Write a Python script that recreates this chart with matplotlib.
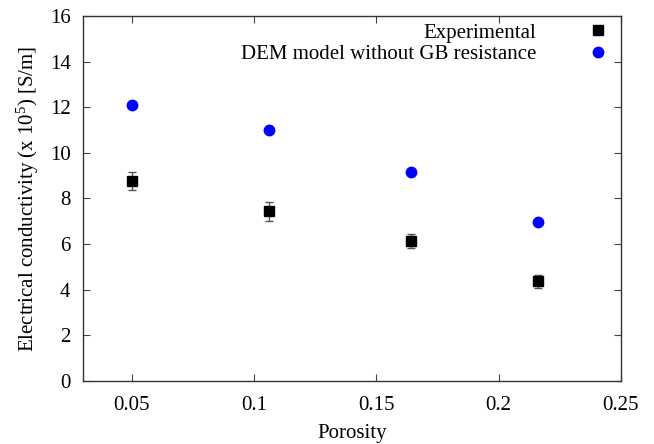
import matplotlib
matplotlib.use("Agg")
import matplotlib.pyplot as plt

plt.rcParams['font.family'] = ['Liberation Serif', 'DejaVu Serif']
plt.rcParams['mathtext.fontset'] = 'custom'
plt.rcParams['mathtext.rm'] = 'Liberation Serif'
plt.rcParams['mathtext.it'] = 'Liberation Serif:italic'

porosity = [0.05, 0.106, 0.164, 0.216]
experimental = [8.77, 7.43, 6.15, 4.36]
exp_err = [0.39, 0.40, 0.30, 0.29]
dem_model = [12.1, 11.0, 9.14, 6.95]

xticks = [0.05, 0.1, 0.15, 0.2, 0.25]
xticklabels = ['0.05', '0.1', '0.15', '0.2', '0.25']
yticks = [0, 2, 4, 6, 8, 10, 12, 14, 16]

fig = plt.figure(figsize=(6.54, 4.44), dpi=100)
ax = fig.add_axes([0.127, 0.142, 0.8225, 0.822])

ax.errorbar(porosity, experimental, yerr=exp_err, fmt='none', ecolor='#555555',
            elinewidth=1.0, capsize=3, capthick=1.0, zorder=2)
ax.plot(porosity, experimental, linestyle='none', marker='s', color='black',
        markersize=7.5, label='Experimental', zorder=3)
ax.plot(porosity, dem_model, linestyle='none', marker='o', color='#0000ff',
        markersize=7.5, label='DEM model without GB resistance', zorder=3)

ax.set_xlim(0.03, 0.25)
ax.set_ylim(0, 16)
ax.set_xticks(xticks)
ax.set_xticklabels(xticklabels)
ax.set_yticks(yticks)
ax.tick_params(direction='in', top=True, right=True, labelsize=15, length=5,
               width=0.8, color='#444444')
ax.tick_params(axis='x', pad=11)
ax.tick_params(axis='y', pad=9)
for s in ax.spines.values():
    s.set_linewidth(1.0)
    s.set_color('#333333')

ax.set_xlabel('Porosity', fontsize=15, labelpad=6)
ax.set_ylabel('Electrical conductivity (x 10$^5$) [S/m]', fontsize=15, labelpad=6)

ax.legend(loc='upper right', bbox_to_anchor=(0.99, 0.995), frameon=False,
          markerfirst=False, fontsize=15, handlelength=1.2, handletextpad=2.35,
          borderaxespad=0.0, labelspacing=0.1, borderpad=0.25)

fig.savefig('out.png', dpi=100)
